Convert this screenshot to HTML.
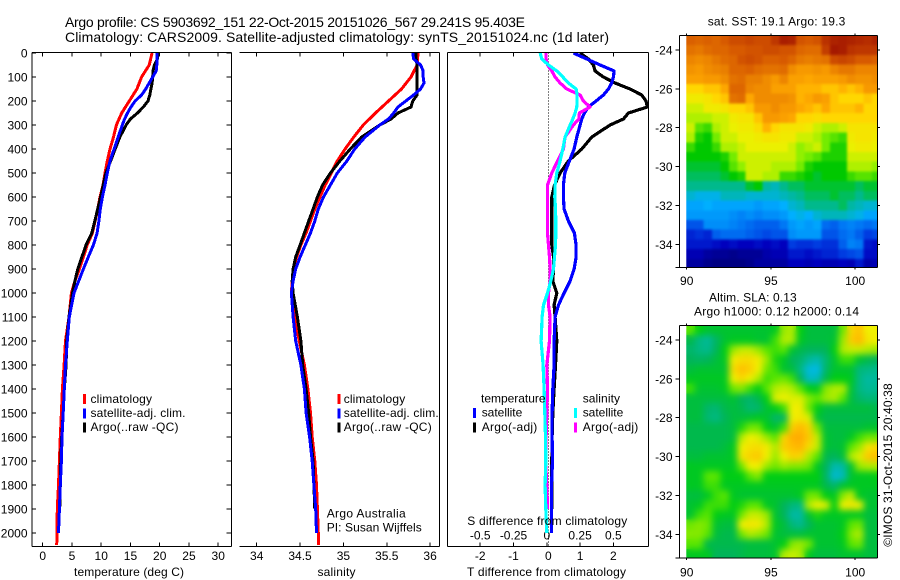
<!DOCTYPE html>
<html>
<head>
<meta charset="utf-8">
<title>Argo profile</title>
<style>
html,body{margin:0;padding:0;background:#fff;}
svg{display:block;}
text{font-family:"Liberation Sans",sans-serif;font-size:12px;fill:#000;}
.t{font-size:14px;}
</style>
</head>
<body>
<svg id="chart" xmlns="http://www.w3.org/2000/svg" width="900" height="580" viewBox="0 0 900 580">
<defs>
<clipPath id="diff-clip"><rect x="448" y="53" width="200" height="493"/></clipPath>
<clipPath id="sst-clip"><rect x="686" y="35.5" width="191" height="231.5"/></clipPath>
<clipPath id="sla-clip"><rect x="686" y="325.5" width="191" height="232"/></clipPath>
<filter id="sst-smooth" x="-5%" y="-5%" width="110%" height="110%" color-interpolation-filters="sRGB">
<feGaussianBlur in="SourceGraphic" stdDeviation="1.2" result="b"/>
<feMerge><feMergeNode in="SourceGraphic"/><feMergeNode in="b"/></feMerge>
</filter>
<filter id="sla-smooth" x="-5%" y="-5%" width="110%" height="110%" color-interpolation-filters="sRGB">
<feGaussianBlur in="SourceGraphic" stdDeviation="3.5" result="b"/>
<feMerge><feMergeNode in="SourceGraphic"/><feMergeNode in="b"/></feMerge>
</filter>
</defs>
<text class="t" x="65" y="27" textLength="460">Argo profile: CS 5903692_151 22-Oct-2015 20151026_567 29.241S 95.403E</text>
<text class="t" x="65" y="42" textLength="544">Climatology: CARS2009. Satellite-adjusted climatology: synTS_20151024.nc (1d later)</text>
<g id="marks"></g>
<text x="74" y="576" textLength="110">temperature (deg C)</text>
<text x="317.5" y="576" textLength="38">salinity</text>
<text x="467" y="576" textLength="159">T difference from climatology</text>
<text x="467.3" y="525" textLength="160">S difference from climatology</text>

<g>
<rect x="83" y="394" width="3" height="10" fill="#ff0000"/>
<text x="90.5" y="403" textLength="61.5">climatology</text>
<rect x="83" y="408.5" width="3" height="10" fill="#0000ff"/>
<text x="90.5" y="417" textLength="95">satellite-adj. clim.</text>
<rect x="83" y="422.5" width="3" height="10" fill="#000"/>
<text x="90.5" y="431" textLength="88">Argo(..raw -QC)</text>
</g>
<g>
<rect x="337.5" y="394" width="3" height="10" fill="#ff0000"/>
<text x="343.7" y="403" textLength="61.5">climatology</text>
<rect x="337.5" y="408.5" width="3" height="10" fill="#0000ff"/>
<text x="343.7" y="417" textLength="95">satellite-adj. clim.</text>
<rect x="337.5" y="422.5" width="3" height="10" fill="#000"/>
<text x="343.7" y="431" textLength="88">Argo(..raw -QC)</text>
</g>
<text x="326.7" y="517.7" textLength="79">Argo Australia</text>
<text x="326.7" y="531.7" textLength="95">PI: Susan Wijffels</text>

<g>
<text x="481" y="402.7" textLength="64.5">temperature</text>
<rect x="473" y="408" width="3" height="10" fill="#0000ff"/>
<text x="481.7" y="416.7" textLength="40.6">satellite</text>
<rect x="473" y="422.5" width="3" height="10" fill="#000"/>
<text x="481.7" y="431" textLength="55.6">Argo(-adj)</text>
<text x="582.7" y="402.7" textLength="37.3">salinity</text>
<rect x="574" y="408" width="3" height="10" fill="#00ffff"/>
<text x="582.7" y="416.7" textLength="40.6">satellite</text>
<rect x="574" y="422.5" width="3" height="10" fill="#ff00ff"/>
<text x="582.7" y="431" textLength="55.6">Argo(-adj)</text>
</g>

<text x="707.7" y="25.7" textLength="137.6">sat. SST: 19.1  Argo: 19.3</text>
<text x="709" y="301.7" textLength="87.7">Altim. SLA: 0.13</text>
<text x="694" y="315.7" textLength="165">Argo h1000: 0.12 h2000: 0.14</text>
<text transform="translate(892 546.7) rotate(-90)" x="0" y="0" textLength="163.4">©IMOS 31-Oct-2015 20:40:38</text>
</svg>

<script>
// ---- chart data ----
const depthTicks = [0,100,200,300,400,500,600,700,800,900,1000,1100,1200,1300,1400,1500,1600,1700,1800,1900,2000];
const tempTicks = [0,5,10,15,20,25,30];
const salTicks = [34,34.5,35,35.5,36];
const salTickLabels = ['34','34.5','35','35.5','36'];
const diffTTicks = [-2,-1,0,1,2];
const diffSTicks = [-0.5,-0.25,0,0.25,0.5];
const diffSTickLabels = ['-0.5','-0.25','0','0.25','0.5'];
const lonTicks = [90,95,100];
const latTicks = [-24,-26,-28,-30,-32,-34];

const climDepth = [0,50,100,150,200,250,300,350,400,450,500,550,600,650,700,750,800,850,900,950,1000,1100,1200,1300,1400,1500,1600,1700,1800,1900,2000,2050];
const climTemp = [18.7,18.2,16.9,16.1,14.8,13.5,12.6,12.1,11.5,11.05,10.65,10.3,9.8,9.4,8.95,8.5,7.6,6.95,6.27,5.5,4.9,4.5,3.9,3.65,3.36,3.2,3.0,2.85,2.7,2.5,2.45,2.4];
const climSal = [35.86,35.85,35.78,35.67,35.52,35.37,35.23,35.12,35.02,34.93,34.86,34.79,34.73,34.67,34.62,34.57,34.51,34.46,34.42,34.41,34.4,34.44,34.49,34.55,34.59,34.62,34.64,34.67,34.69,34.7,34.71,34.71];

const profDepth = [0,25,50,75,100,125,150,175,200,225,250,275,300,350,400,450,500,550,600,650,700,750,800,850,900,950,1000,1100,1200,1300,1400,1500,1600,1700,1800,1900,2000];
const satTemp = [19.55,19.55,19.5,19.4,18.8,18.2,17.6,16.9,15.8,15.1,14.5,14.0,13.6,12.9,12.2,11.5,11.05,10.65,10.2,9.85,9.6,9.3,8.66,7.8,6.95,6.15,5.35,4.55,4.2,3.9,3.7,3.5,3.3,3.2,3.0,2.85,2.7];
const argoTemp = [19.7,19.6,19.1,18.85,18.8,18.7,18.5,18.3,18.0,17.2,16.2,15.0,14.25,13.2,12.4,11.6,10.8,10.35,9.9,9.4,8.9,8.4,7.4,6.7,6.0,5.5,5.1,4.5,4.1,4.0,3.7,3.5,3.25,3.1,3.0,2.9];
const satSal = [35.8,35.81,35.89,35.92,35.92,35.93,35.89,35.81,35.72,35.63,35.58,35.52,35.42,35.25,35.13,35.04,34.93,34.85,34.77,34.71,34.67,34.62,34.56,34.5,34.45,34.42,34.4,34.42,34.45,34.51,34.55,34.57,34.61,34.64,34.66,34.68,34.69];
const argoSal = [35.84,35.84,35.85,35.85,35.85,35.85,35.85,35.85,35.8,35.78,35.63,35.55,35.42,35.21,35.08,34.96,34.85,34.76,34.7,34.65,34.6,34.55,34.5,34.45,34.42,34.41,34.42,34.47,34.51,34.53,34.57,34.6,34.62,34.65,34.66,34.67];

const diffDepth = [0,25,50,75,100,125,150,175,200,225,250,275,300,350,400,450,500,550,600,650,700,750,800,850,900,950,1000,1050,1100,1200,1300,1400,1500,1600,1700,1800,1900,2000];
const diffSatT = [0.80,1.20,1.60,2.02,2.00,1.95,1.85,1.70,1.48,1.25,1.13,1.05,1.00,0.90,0.82,0.68,0.54,0.50,0.50,0.52,0.65,0.83,0.88,0.88,0.82,0.70,0.52,0.35,0.25,0.22,0.22,0.18,0.16,0.16,0.17,0.14,0.14,0.14];
const diffArgoT = [1.00,1.25,1.40,1.45,1.70,2.05,2.50,2.85,2.98,3.02,2.45,2.30,1.90,1.35,1.05,0.65,0.40,0.23,0.15,0.15,0.15,0.15,0.15,0.20,0.20,0.18,0.30,0.22,0.25,0.30,0.26,0.22,0.18,0.16,0.15,0.15,0.15];
const diffArgoS = [-0.005,-0.005,0.005,0.0375,0.0625,0.10,0.15,0.25,0.275,0.325,0.245,0.24,0.20,0.1375,0.125,0.08,0.0375,0.005,0.005,0.005,0.005,0.005,0.0125,0.02,0.025,0.025,0.0125,0.0125,0.025,0.02,0,0.005,0,-0.005,-0.01,0,0.005];
const diffSatS = [-0.05,-0.0375,0.0125,0.075,0.12,0.1625,0.22,0.2275,0.2275,0.225,0.2125,0.195,0.175,0.1375,0.12,0.10,0.075,0.0625,0.06,0.065,0.0675,0.0675,0.065,0.0575,0.05,0.03,0.005,-0.025,-0.035,-0.0425,-0.0275,-0.02,-0.015,-0.01,-0.0075,-0.0125,-0.0075,0];

// sea-surface temperature grid, 0.5 degree cells, north to south, west to east
const sstGrid = [
[20.9,20.8,20.9,20.8,21.0,21.2,21.2,21.3,21.2,21.2,21.5,22.0,21.9,21.1,21.0,21.1,21.6,21.9,22.0,21.9,21.8,21.7,21.9],
[20.6,20.5,20.7,20.8,20.8,21.0,21.0,21.1,21.1,21.2,21.2,21.1,21.1,20.8,20.7,20.7,21.4,22.1,22.0,21.6,21.5,21.5,21.5],
[20.3,20.2,20.3,20.5,20.7,20.8,21.1,21.2,21.1,20.9,20.9,21.0,20.8,20.5,20.4,20.5,20.6,21.2,21.3,21.2,21.0,21.0,20.9],
[20.1,20.0,20.2,20.3,20.4,20.8,20.8,20.9,20.7,20.6,20.6,20.7,20.2,20.0,20.0,20.1,20.0,20.3,20.5,20.5,20.3,20.3,20.3],
[19.9,19.9,20.0,20.0,20.2,20.6,20.7,20.4,20.4,20.2,20.0,20.3,19.9,19.9,19.8,19.9,19.9,19.9,20.0,20.2,20.1,20.1,20.2],
[19.5,19.5,19.6,19.6,19.8,20.8,20.8,20.3,20.2,20.2,19.9,19.9,19.9,19.7,19.7,19.7,19.6,19.6,19.7,19.6,19.7,20.0,20.0],
[19.2,19.2,19.3,19.5,19.6,20.6,20.7,19.8,20.2,20.2,20.2,20.2,20.1,19.7,19.8,20.0,19.9,19.6,19.5,19.5,19.5,19.6,19.5],
[19.0,19.0,19.2,19.2,19.3,19.5,19.5,19.6,20.0,20.0,20.2,20.0,20.0,19.8,19.7,19.6,19.8,19.6,19.6,19.6,19.7,19.5,19.5],
[18.9,18.9,18.9,19.0,19.0,19.2,19.3,19.3,19.6,20.0,20.0,19.9,19.8,19.5,19.5,19.4,19.5,19.5,19.5,19.5,19.5,19.5,19.5],
[19.0,18.6,18.5,18.9,19.0,19.1,19.2,19.2,19.4,19.7,19.5,19.3,19.3,19.3,19.2,19.0,18.9,18.9,19.0,19.3,19.3,19.3,19.3],
[18.9,18.4,18.3,18.7,19.0,19.0,19.1,19.1,19.2,19.3,19.3,19.2,19.2,19.0,19.0,18.9,18.7,18.6,18.5,19.2,19.3,19.3,19.2],
[18.5,18.3,18.3,18.5,18.9,18.9,19.0,19.1,19.1,19.1,19.1,19.1,19.0,18.8,18.9,19.0,18.7,18.4,18.4,19.1,19.2,19.2,19.1],
[18.3,18.3,18.3,18.3,18.4,18.7,19.0,19.0,19.0,19.0,19.0,19.0,19.0,18.8,18.7,18.6,18.4,18.4,18.4,19.0,19.0,19.0,19.0],
[18.2,18.2,18.2,18.2,18.3,18.6,18.8,19.0,19.0,19.0,18.9,18.9,18.9,18.7,18.4,18.3,18.3,18.3,18.3,18.9,18.9,18.9,18.8],
[18.1,18.1,18.1,18.1,18.2,18.3,18.4,19.0,19.0,18.9,18.9,18.5,18.5,18.4,18.3,18.2,18.3,18.3,18.3,18.5,18.6,18.6,18.5],
[18.0,18.0,18.0,18.0,18.0,18.0,18.0,18.2,18.3,17.9,17.8,18.0,18.1,18.1,18.2,18.2,18.2,18.2,18.2,18.2,18.1,18.2,18.2],
[17.7,17.6,17.6,17.6,17.8,17.8,17.8,17.7,17.7,17.7,17.7,17.8,17.9,18.0,18.1,18.1,18.1,18.2,18.1,18.1,18.0,18.1,18.1],
[17.4,17.4,17.5,17.4,17.4,17.4,17.4,17.4,17.3,17.4,17.4,17.5,17.7,17.8,18.0,18.0,18.0,18.0,18.1,17.9,17.8,17.7,17.7],
[17.3,17.3,17.3,17.3,17.3,17.2,17.1,17.2,17.1,17.2,17.2,17.3,17.5,17.6,17.5,17.7,17.8,17.8,17.8,17.7,17.6,17.4,17.4],
[16.7,16.7,17.2,17.2,17.2,17.1,17.0,16.9,16.8,16.8,16.8,17.0,17.3,17.4,17.3,17.4,16.9,16.8,17.0,17.1,17.0,16.9,17.0],
[16.3,16.4,16.3,16.8,16.9,16.9,16.9,16.8,16.7,16.6,16.7,16.7,17.2,17.3,17.3,17.3,16.7,16.7,16.9,17.0,16.8,16.5,16.6],
[16.2,16.2,16.2,16.1,16.0,16.1,16.0,16.0,16.1,16.0,16.1,16.0,16.5,16.4,16.4,16.5,16.4,16.4,16.8,17.1,17.0,16.2,16.1],
[15.9,15.9,15.7,15.6,15.6,15.5,15.6,15.6,15.6,15.8,15.9,15.9,16.2,16.2,16.1,16.2,16.3,16.3,16.5,16.6,16.7,16.1,16.1],
[15.7,15.7,15.5,15.4,15.4,15.4,15.4,15.5,15.7,15.7,15.7,15.7,16.0,16.0,15.9,16.0,15.9,15.9,16.0,15.9,16.2,15.8,15.9]
];

// sea-level anomaly grid, same layout
const slaGrid = [
[0.13,0.10,0.08,0.08,0.08,0.08,0.08,0.08,0.08,0.08,0.09,0.16,0.17,0.10,0.07,0.07,0.07,0.07,0.14,0.25,0.29,0.20,0.20],
[0.06,0.00,-0.02,0.04,0.08,0.09,0.09,0.09,0.08,0.08,0.12,0.17,0.17,0.09,0.07,0.07,0.07,0.08,0.16,0.27,0.31,0.22,0.20],
[0.03,0.00,-0.01,0.05,0.10,0.16,0.18,0.18,0.16,0.13,0.12,0.13,0.08,0.06,0.05,0.05,0.05,0.10,0.17,0.18,0.18,0.17,0.16],
[0.05,0.04,0.05,0.07,0.09,0.21,0.24,0.24,0.21,0.16,0.11,0.09,0.05,0.03,-0.02,-0.04,0.02,0.08,0.12,0.12,0.08,0.06,0.05],
[0.07,0.08,0.08,0.08,0.08,0.24,0.30,0.27,0.20,0.14,0.12,0.08,0.07,0.00,-0.08,-0.09,0.03,0.08,0.08,0.08,0.01,0.00,-0.01],
[0.09,0.09,0.09,0.09,0.09,0.20,0.25,0.20,0.17,0.12,0.13,0.14,0.12,0.05,-0.06,-0.05,0.06,0.10,0.10,0.09,0.00,-0.03,-0.02],
[0.12,0.08,0.08,0.08,0.09,0.14,0.15,0.12,0.10,0.13,0.17,0.18,0.17,0.13,0.10,0.09,0.15,0.17,0.17,0.08,0.00,-0.02,-0.01],
[0.07,0.07,0.07,0.07,0.07,0.08,0.05,0.03,0.06,0.10,0.19,0.20,0.19,0.19,0.15,0.13,0.16,0.17,0.13,0.07,0.03,0.01,0.02],
[0.07,0.07,0.03,0.02,0.06,0.07,0.06,0.02,0.03,0.08,0.10,0.12,0.20,0.21,0.14,0.10,0.07,0.07,0.07,0.07,0.07,0.07,0.06],
[0.07,0.07,0.02,0.00,0.05,0.07,0.07,0.08,0.09,0.08,0.03,0.04,0.20,0.22,0.19,0.08,0.06,0.06,0.06,0.06,0.06,0.06,0.06],
[0.06,0.06,0.06,0.06,0.06,0.07,0.11,0.14,0.14,0.10,0.08,0.12,0.27,0.31,0.26,0.14,0.07,0.07,0.07,0.07,0.07,0.08,0.08],
[0.06,0.06,0.06,0.06,0.06,0.07,0.17,0.20,0.19,0.16,0.13,0.25,0.33,0.34,0.28,0.18,0.08,0.07,0.07,0.09,0.12,0.14,0.14],
[0.06,0.06,0.06,0.06,0.07,0.09,0.20,0.23,0.24,0.21,0.17,0.27,0.30,0.32,0.24,0.18,0.08,0.07,0.08,0.13,0.16,0.22,0.25],
[0.07,0.07,0.08,0.08,0.08,0.09,0.22,0.26,0.28,0.20,0.16,0.20,0.26,0.25,0.17,0.13,0.06,0.05,0.07,0.17,0.19,0.28,0.30],
[0.09,0.09,0.09,0.09,0.09,0.09,0.14,0.20,0.20,0.16,0.14,0.16,0.15,0.15,0.14,0.09,0.05,-0.04,-0.03,0.08,0.16,0.17,0.17],
[0.09,0.09,0.13,0.13,0.10,0.10,0.10,0.13,0.15,0.10,0.10,0.10,0.10,0.10,0.10,0.10,0.04,-0.07,-0.05,0.08,0.09,0.09,0.10],
[0.09,0.09,0.12,0.12,0.09,0.09,0.09,0.09,0.09,0.09,0.09,0.09,0.09,0.09,0.09,0.09,0.06,0.03,0.08,0.09,0.09,0.09,0.09],
[0.07,0.07,0.09,0.12,0.13,0.09,0.08,0.08,0.08,0.08,0.08,0.08,0.08,0.09,0.14,0.14,0.10,0.09,0.15,0.18,0.09,0.08,0.08],
[0.08,0.09,0.12,0.12,0.12,0.10,0.11,0.13,0.13,0.09,0.08,0.05,0.01,0.00,0.17,0.20,0.19,0.10,0.20,0.22,0.20,0.08,0.08],
[0.08,0.12,0.13,0.10,0.09,0.09,0.14,0.18,0.18,0.16,0.08,0.05,-0.03,-0.03,0.08,0.11,0.09,0.09,0.09,0.09,0.09,0.07,0.07],
[0.14,0.15,0.14,0.08,0.07,0.07,0.20,0.22,0.21,0.17,0.09,0.07,0.01,-0.01,0.05,0.08,0.08,0.08,0.09,0.13,0.14,0.07,0.07],
[0.15,0.15,0.13,0.07,0.06,0.06,0.14,0.17,0.16,0.14,0.08,0.07,0.07,0.07,0.08,0.08,0.08,0.08,0.10,0.15,0.17,0.07,0.07],
[0.13,0.13,0.06,0.06,0.06,0.06,0.06,0.07,0.07,0.07,0.08,0.10,0.15,0.16,0.14,0.08,0.08,0.08,0.09,0.13,0.14,0.07,0.07],
[0.09,0.09,0.09,0.05,0.05,0.05,0.06,0.07,0.07,0.07,0.08,0.17,0.18,0.17,0.09,0.07,0.07,0.07,0.08,0.08,0.08,0.07,0.07]
];

// colour scales
const sstScaleValues = [15.4,16,16.5,17,17.5,18,18.3,18.75,19.1,19.5,19.75,20.5,21,21.5,22.1];
const sstScaleColors = [[0,0,130],[0,0,190],[0,60,225],[0,120,245],[0,175,255],[0,185,140],[0,200,0],[130,240,0],[235,240,0],[255,215,0],[255,170,0],[230,120,0],[215,90,0],[190,55,0],[165,25,0]];
const slaScaleValues = [-0.1,0,0.05,0.1,0.13,0.2,0.3,0.35];
const slaScaleColors = [[0,185,240],[0,185,130],[0,180,90],[0,205,20],[90,230,0],[240,240,0],[255,190,0],[255,165,0]];

// ---- axis functions ----
const NS = 'http://www.w3.org/2000/svg';
const root = document.getElementById('marks');
const depthY = d => 53 + 0.24 * d;
const tempX = t => 42.7 + 5.85 * t;
const salX = s => 256.7 + 86.7 * (s - 34);
const diffTX = t => 546.8 + 33.3 * t;
const diffSX = s => 546.8 + 133.2 * s;
const lonX = lon => 686.7 + 16.85 * (lon - 90);
const sstLatY = lat => 50 + 19.43 * (-24 - lat);
const slaLatY = lat => 340 + 19.43 * (-24 - lat);

function mk(tag, name, parent) {
  const el = document.createElementNS(NS, tag);
  
  
  (parent || root).appendChild(el);
  return el;
}
function seg(name, x1, y1, x2, y2) {
  const l = mk('line', name);
  l.setAttribute('x1', x1); l.setAttribute('y1', y1);
  l.setAttribute('x2', x2); l.setAttribute('y2', y2);
  l.setAttribute('stroke', '#000');
  l.setAttribute('stroke-width', '1');
  l.setAttribute('shape-rendering', 'crispEdges');
  return l;
}
function label(name, x, y, str, anchor) {
  const t = mk('text', name);
  t.setAttribute('x', x); t.setAttribute('y', y);
  t.setAttribute('text-anchor', anchor || 'middle');
  t.textContent = str;
  return t;
}
function series(name, depths, values, xf, color, width, clip) {
  const p = mk('polyline', name);
  let pts = [];
  for (let i = 0; i < values.length; i++) {
    pts.push(xf(values[i]).toFixed(1) + ',' + depthY(depths[i]).toFixed(1));
  }
  p.setAttribute('points', pts.join(' '));
  p.setAttribute('fill', 'none');
  p.setAttribute('stroke', color);
  p.setAttribute('stroke-width', width);
  p.setAttribute('stroke-linejoin', 'round');
  p.setAttribute('shape-rendering', 'crispEdges');
  if (clip) p.setAttribute('clip-path', 'url(#' + clip + ')');
  return p;
}
function scaleColor(v, vals, cols) {
  if (v <= vals[0]) return 'rgb(' + cols[0].join(',') + ')';
  for (let i = 1; i < vals.length; i++) {
    if (v <= vals[i]) {
      const f = (v - vals[i - 1]) / (vals[i] - vals[i - 1]);
      const c = cols[i].map((h, k) => Math.round(cols[i - 1][k] + f * (h - cols[i - 1][k])));
      return 'rgb(' + c.join(',') + ')';
    }
  }
  return 'rgb(' + cols[cols.length - 1].join(',') + ')';
}
function heatmap(name, grid, yf, vals, cols, clip, smooth) {
  const g = mk('g', name);
  g.setAttribute('clip-path', 'url(#' + clip + ')');
  g.setAttribute('filter', 'url(#' + smooth + ')');
  grid.forEach((row, r) => {
    row.forEach((v, c) => {
      const cell = mk('rect', name + '-cell', g);
      const lon = 90 + 0.5 * c;
      const lat = -23.25 - 0.5 * r;
      cell.setAttribute('x', lonX(lon).toFixed(2));
      cell.setAttribute('y', yf(lat).toFixed(2));
      cell.setAttribute('width', (lonX(lon + 0.5) - lonX(lon) + 0.6).toFixed(2));
      cell.setAttribute('height', (yf(lat - 0.5) - yf(lat) + 0.6).toFixed(2));
      cell.setAttribute('fill', scaleColor(v, vals, cols));
      cell.setAttribute('shape-rendering', 'crispEdges');
    });
  });
}

// ---- temperature panel ----
const topY = 52.5, botY = 546.5;
seg('temperature-panel-top', 32, topY, 231.5, topY);
seg('temperature-panel-bottom', 32, botY, 231.5, botY);
seg('temperature-panel-left', 32, topY, 32, botY);
seg('temperature-panel-right', 231.5, topY, 231.5, botY);
tempTicks.forEach(t => {
  seg('temperature-tick-top', tempX(t), topY, tempX(t), topY + 4);
  seg('temperature-tick-bottom', tempX(t), botY - 4, tempX(t), botY);
  label('temperature-tick-label', tempX(t), 560, String(t));
});
depthTicks.forEach(d => {
  seg('depth-tick-left', 32, depthY(d), 36, depthY(d));
  seg('depth-tick-right', 226.5, depthY(d), 231.5, depthY(d));
  label('depth-tick-label', 27.5, depthY(d) + 4.5, String(d), 'end');
});
series('temperature-climatology-line', climDepth, climTemp, tempX, '#ff0000', 3);
series('temperature-argo-line', profDepth, argoTemp, tempX, '#000000', 3);
series('temperature-satellite-line', profDepth, satTemp, tempX, '#0000ff', 3);

// ---- salinity panel ----
seg('salinity-panel-top', 239.5, topY, 439.5, topY);
seg('salinity-panel-bottom', 239.5, botY, 439.5, botY);
seg('salinity-panel-right', 439.5, topY, 439.5, botY);
salTicks.forEach((s, i) => {
  seg('salinity-tick-top', salX(s), topY, salX(s), topY + 4);
  seg('salinity-tick-bottom', salX(s), botY - 4, salX(s), botY);
  label('salinity-tick-label', salX(s), 560, salTickLabels[i]);
});
series('salinity-climatology-line', climDepth, climSal, salX, '#ff0000', 3);
series('salinity-argo-line', profDepth, argoSal, salX, '#000000', 3);
series('salinity-satellite-line', profDepth, satSal, salX, '#0000ff', 3);

// ---- difference panel ----
seg('difference-panel-top', 447.5, topY, 648.5, topY);
seg('difference-panel-bottom', 447.5, botY, 648.5, botY);
seg('difference-panel-left', 447.5, topY, 447.5, botY);
seg('difference-panel-right', 648.5, topY, 648.5, botY);
diffTTicks.forEach(t => {
  seg('t-difference-tick-top', diffTX(t), topY, diffTX(t), topY + 4);
  seg('t-difference-tick-bottom', diffTX(t), botY - 4, diffTX(t), botY);
  label('t-difference-tick-label', diffTX(t) + (t === 0 ? 1.5 : 0), 560, String(t));
});
diffSTicks.forEach((s, i) => {
  label('s-difference-tick-label', diffSX(s), 539.3, diffSTickLabels[i]);
});
const zeroLine = seg('zero-difference-line', diffTX(0) + 1.5, topY, diffTX(0) + 1.5, botY);
zeroLine.setAttribute('stroke-dasharray', '1 2');
series('difference-argo-t-line', diffDepth, diffArgoT, diffTX, '#000000', 3.2, 'diff-clip');
series('difference-satellite-t-line', diffDepth, diffSatT, diffTX, '#0000ff', 3.2, 'diff-clip');
series('difference-argo-s-line', diffDepth, diffArgoS, diffSX, '#ff00ff', 3.2, 'diff-clip');
series('difference-satellite-s-line', diffDepth, diffSatS, diffSX, '#00ffff', 3.2, 'diff-clip');

// ---- maps ----
function mapFrame(prefix, yf, top, bottom, labelY) {
  seg(prefix + '-frame-top', 679.5, top, 877.5, top);
  seg(prefix + '-frame-bottom', 679.5, bottom, 877.5, bottom);
  seg(prefix + '-frame-left', 679.5, top, 679.5, bottom);
  seg(prefix + '-frame-right', 877.5, top, 877.5, bottom);
  lonTicks.forEach(lon => {
    seg(prefix + '-lon-tick-top', lonX(lon), top - 2, lonX(lon), top);
    seg(prefix + '-lon-tick-bottom', lonX(lon), bottom, lonX(lon), bottom + 2);
    label(prefix + '-lon-tick-label', lonX(lon), labelY, String(lon));
  });
  latTicks.forEach(lat => {
    seg(prefix + '-lat-tick-left', 675.5, yf(lat), 679.5, yf(lat));
    seg(prefix + '-lat-tick-right', 877.5, yf(lat), 880, yf(lat));
    label(prefix + '-lat-tick-label', 672.5, yf(lat) + 4.5, String(lat), 'end');
  });
  seg(prefix + '-corner-tick', 675.5, bottom, 679.5, bottom);
}
heatmap('sst-map', sstGrid, sstLatY, sstScaleValues, sstScaleColors, 'sst-clip', 'sst-smooth');
mapFrame('sst-map', sstLatY, 35.5, 267.5, 285);
heatmap('sla-map', slaGrid, slaLatY, slaScaleValues, slaScaleColors, 'sla-clip', 'sla-smooth');
mapFrame('sla-map', slaLatY, 325.5, 558, 576.5);
</script>
</body>
</html>
